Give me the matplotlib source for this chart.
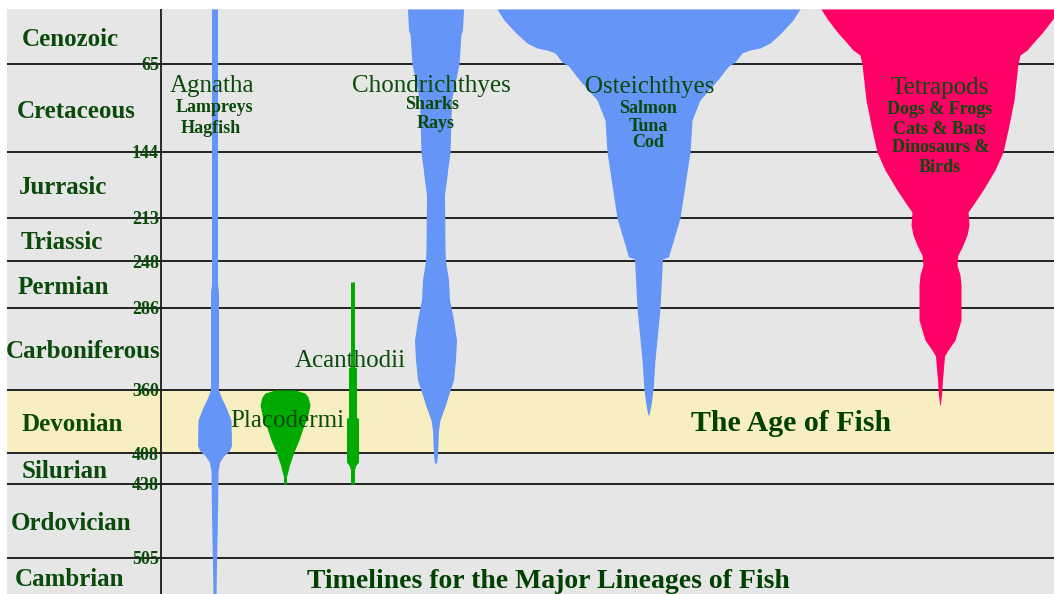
import numpy as np
import matplotlib
matplotlib.use("Agg")
import matplotlib.pyplot as plt
from matplotlib.transforms import offset_copy

plt.rcParams['font.family'] = ['Liberation Serif', 'DejaVu Serif']

# ---------------- data ----------------
boundary_ages = [65, 144, 213, 248, 286, 360, 408, 438, 505]
period_names = ["Cenozoic", "Cretaceous", "Jurrasic", "Triassic", "Permian",
                "Carboniferous", "Devonian", "Silurian", "Ordovician", "Cambrian"]
age_top, age_bottom = 0, 545

# spindle profiles: ages (Mya) and half-widths
agnatha_age = [0, 267, 273, 360, 366, 374, 383, 402, 406, 411, 417, 426, 466, 511, 545]
agnatha_hw = [3, 3, 4, 4, 7, 12, 16.5, 17, 15, 9, 5, 3.5, 3, 2, 1.5]

placo_age = [360, 362.3, 365.3, 371.4, 380.6, 389, 398.1, 408, 419.6, 429.3, 430.3, 438]
placo_hw = [10, 20, 23, 25, 22.5, 18, 14, 8.5, 4.5, 2, 1.5, 1.5]

acanth_age = [265, 339.2, 339.8, 381, 381.5, 416.7, 420.6, 424.5, 438]
acanth_hw = [2, 2, 4, 4, 6, 6, 3, 2, 2]

chond_age = [0, 24.8, 29.5, 65, 97.3, 144, 189, 239, 248, 263.4, 279.5, 296.8,
             314.9, 332.9, 351, 363.8, 371.4, 377.5, 382.9, 390.5, 410, 417.7]
chond_hw = [28, 27, 25.5, 23.5, 16, 14.5, 9, 9.5, 10, 13, 14, 18,
            21, 20, 18, 13, 10, 7, 4.5, 3, 2, 1]

oste_age = [0, 13, 28.4, 40.2, 46.1, 48.5, 51.9, 62.6, 66.8, 79.4, 97.3, 115.3,
            144, 213, 239, 244.7, 246.3, 286, 332.9, 360, 371.4, 379]
oste_hw = [151.5, 144.5, 132.5, 121.5, 111.5, 101.5, 93.5, 86.5, 80, 69, 51.5, 43.5,
           41.5, 31.5, 22, 20, 14, 11.5, 6.5, 4.5, 2.5, 0.5]

tetra_age = [0, 13, 28.4, 40.2, 48.5, 54.4, 65, 97.3, 124.2, 144, 162.8, 183.7,
             199.4, 206.7, 218.7, 226.8, 235, 243.1, 251.2, 259.3, 267.4, 296.8,
             305.9, 314.9, 323.9, 329.3, 351, 363.8, 371.4]
tetra_hw = [119, 112, 102, 93, 87, 80, 78, 74, 68, 63, 55, 43,
            33, 28, 29, 27, 23, 18, 17, 20, 21, 21,
            18, 15, 8, 4.5, 2.5, 1.5, 0.3]

# ---------------- layout / style ----------------
W, H = 1054, 594
boundary_pix = [9, 64, 152, 218, 261, 308, 390, 453, 484, 558, 594]
all_ages = [age_top] + boundary_ages + [age_bottom]

BLUE = '#6495F7'
GREEN = '#00AA00'
PINK = '#FF0066'
TXT = '#0A4A0A'

fig = plt.figure(figsize=(W / 100, H / 100), dpi=100)
fig.patch.set_facecolor('white')
ax = fig.add_axes([7 / W, 0, (W - 7) / W, (H - 9) / H])
ax.set_facecolor('#E6E6E6')

fwd = lambda a: np.interp(a, all_ages, boundary_pix)
inv = lambda p: np.interp(p, boundary_pix, all_ages)
ax.set_yscale('function', functions=(fwd, inv))
ax.set_ylim(age_bottom, age_top)
ax.set_xlim(7, W)
ax.set_xticks([])
ax.set_yticks([])
for s in ax.spines.values():
    s.set_visible(False)

T_big = offset_copy(ax.transData, fig=fig, y=-3, units='dots')
T_small = offset_copy(ax.transData, fig=fig, y=-2, units='dots')

# Devonian band
ax.axhspan(360, 408, color='#F7EFC2', zorder=0.5, lw=0)

# horizontal boundaries
for a in boundary_ages:
    ax.axhline(a, color='#222222', lw=1.4, zorder=1)
ax.axvline(161, color='#1a1a1a', lw=1.3, zorder=1)

# boundary labels
for a in boundary_ages:
    ax.text(159, a, str(a), ha='right', va='center', fontsize=13,
            fontweight='bold', color=TXT, zorder=5, transform=T_small)

# period names
period_x = [70, 76, 63, 62, 63, 83, 72, 65, 71, 70]
for i, name in enumerate(period_names):
    mid = (all_ages[i] + all_ages[i + 1]) / 2
    ax.text(period_x[i], mid, name, ha='center', va='center', fontsize=18,
            fontweight='bold', color=TXT, zorder=5, transform=T_big)

# spindles
def spindle(center, ages, hw, color):
    ages = np.asarray(ages, float)
    hw = np.asarray(hw, float)
    ax.fill_betweenx(ages, center - hw, center + hw, color=color, lw=0, zorder=3)

spindle(214.5, agnatha_age, agnatha_hw, BLUE)
spindle(285, placo_age, placo_hw, GREEN)
spindle(352.5, acanth_age, acanth_hw, GREEN)
spindle(435.5, chond_age, chond_hw, BLUE)
spindle(648.5, oste_age, oste_hw, BLUE)
spindle(940, tetra_age, tetra_hw, PINK)

# taxon labels
def big(x, a, s):
    ax.text(x, a, s, ha='center', va='center', fontsize=18, color=TXT, zorder=6,
            transform=T_big)

def small(x, a, s):
    ax.text(x, a, s, ha='center', va='center', fontsize=13, fontweight='bold',
            color=TXT, zorder=6, transform=T_small)

big(212, 82, "Agnatha")
small(214, 102.7, "Lampreys")
small(211, 120.7, "Hagfish")

big(431, 82, "Chondrichthyes")
small(432, 100, "Sharks")
small(436, 116.2, "Rays")

big(650, 83, "Osteichthyes")
small(648, 103.6, "Salmon")
small(648, 118.9, "Tuna")
small(648, 134.1, "Cod")

big(940, 83.9, "Tetrapods")
small(940, 104.5, "Dogs & Frogs")
small(939, 121.6, "Cats & Bats")
small(941, 138.6, "Dinosaurs &")
small(940, 157.6, "Birds")

big(350, 331.1, "Acanthodii")
big(287, 381.3, "Placodermi")

ax.text(791, 383.6, "The Age of Fish", ha='center', va='center', fontsize=21.5,
        fontweight='bold', color='#004000', zorder=6, transform=T_big)
ax.text(548, 528.3, "Timelines for the Major Lineages of Fish", ha='center',
        va='center', fontsize=20, fontweight='bold', color='#004000', zorder=6,
        transform=T_big)

fig.savefig("out.png", dpi=100, facecolor='white')
